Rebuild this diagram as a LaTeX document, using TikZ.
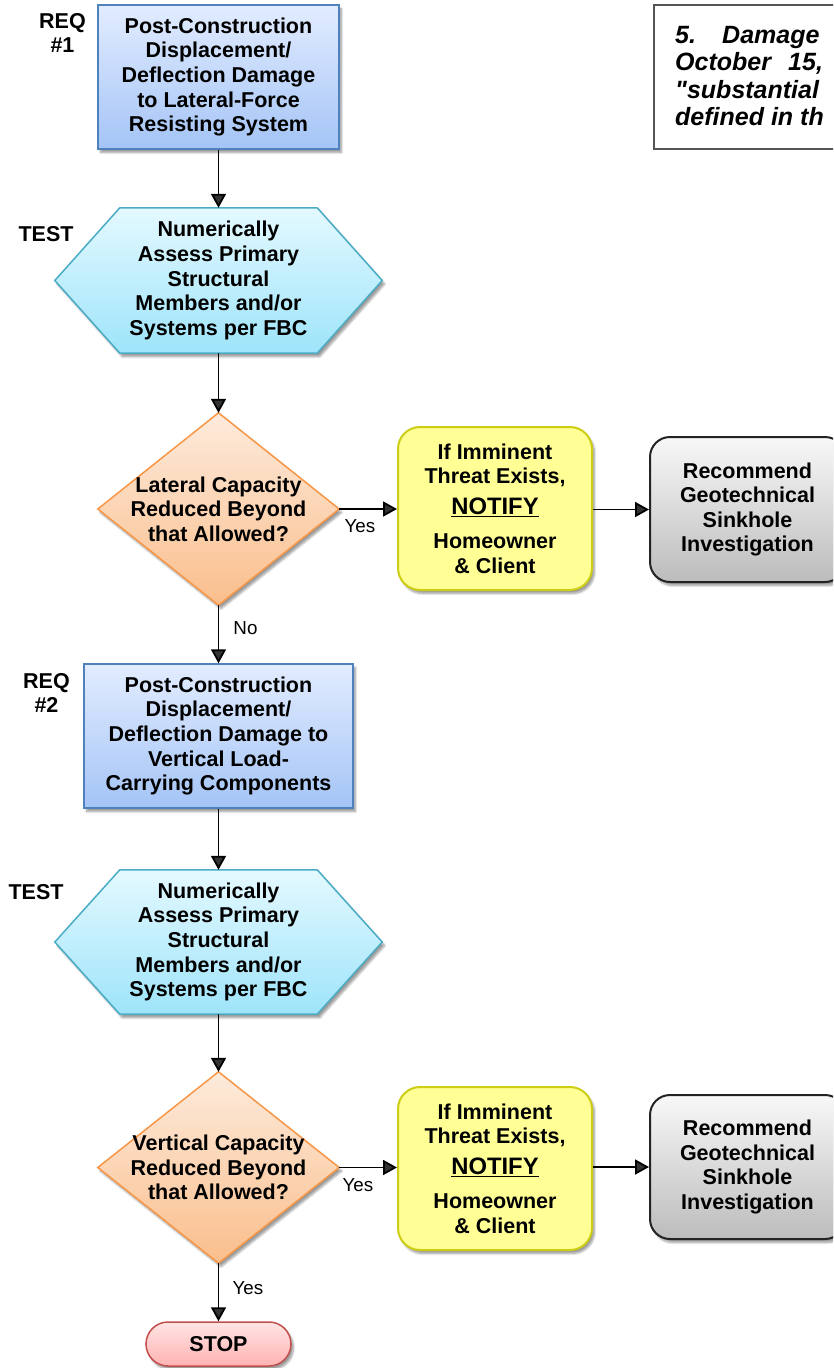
\documentclass[tikz,border=0pt]{standalone}
\usepackage{fontspec}
\setmainfont{Liberation Sans}
\usetikzlibrary{arrows.meta,shadows.blur}
\pgfdeclarelayer{background}
\pgfsetlayers{background,main}
\definecolor{bluetop}{RGB}{226,236,255}
\definecolor{bluebot}{RGB}{164,196,246}
\definecolor{blueline}{RGB}{79,129,189}
\definecolor{hextop}{RGB}{228,249,255}
\definecolor{hexbot}{RGB}{158,228,250}
\definecolor{hexline}{RGB}{75,172,198}
\definecolor{diatop}{RGB}{253,235,220}
\definecolor{diabot}{RGB}{250,190,140}
\definecolor{dialine}{RGB}{247,150,70}
\definecolor{yelfill}{RGB}{255,255,150}
\definecolor{yelline}{RGB}{205,205,20}
\definecolor{graytop}{RGB}{248,248,248}
\definecolor{graybot}{RGB}{188,188,188}
\definecolor{grayline}{RGB}{35,35,35}
\definecolor{stoptop}{RGB}{255,228,228}
\definecolor{stopbot}{RGB}{255,178,178}
\definecolor{stopline}{RGB}{192,80,77}
\definecolor{noteline}{RGB}{85,85,85}
\tikzset{
  txt/.style={font=\bfseries\fontsize{21.5}{24.6}\selectfont, align=center, inner sep=0pt},
  shd/.style={blur shadow={shadow xshift=2.5pt, shadow yshift=-3.5pt, shadow blur steps=6, shadow opacity=40}},
  reqbox/.style={txt, rectangle, draw=blueline, line width=1.5pt, top color=bluetop, bottom color=bluebot, shd, minimum height=144pt},
  hexarea/.style={txt, rectangle, minimum width=327pt, minimum height=145pt},
  hexshape/.style={draw=hexline, line width=1.5pt, top color=hextop, bottom color=hexbot, shd},
  diaarea/.style={txt, rectangle, minimum width=241pt, minimum height=192pt},
  diashape/.style={draw=dialine, line width=1.5pt, top color=diatop, bottom color=diabot, shd},
  notebox/.style={txt, rectangle, rounded corners=22pt, draw=yelline, line width=2pt, fill=yelfill, shd, minimum width=194pt, minimum height=163pt},
  geobox/.style={txt, rectangle, rounded corners=20pt, draw=grayline, line width=2pt, top color=graytop, bottom color=graybot, shd, minimum width=195pt, minimum height=145pt},
  stopbox/.style={txt, rectangle, rounded corners=22pt, draw=stopline, line width=1.5pt, top color=stoptop, bottom color=stopbot, shd, minimum width=145pt, minimum height=44pt},
  sidelabel/.style={txt},
  yeslabel/.style={font=\fontsize{18.8}{22}\selectfont, inner sep=0pt},
  arr/.style={line width=1.8pt, -{Triangle[length=14pt,width=15pt]}},
  notetxt/.style={font=\bfseries\itshape\fontsize{25}{27.5}\selectfont, inner sep=0pt, anchor=base west}
}
\begin{document}
\begin{tikzpicture}[x=1pt,y=-1pt]
\useasboundingbox (0,0) rectangle (833,1368);
\clip (0,0) rectangle (833,1368);

% note box (cropped at right)
\node[draw=noteline, line width=1.5pt, rectangle, minimum width=260pt, minimum height=144pt, inner sep=0pt] (note) at (784,77) {};
\node[notetxt] (n1a) at (675,43) {5.};
\node[notetxt] (n1b) at (722,43) {Damage};
\node[notetxt] (n2a) at (675,70.5) {October};
\node[notetxt] (n2b) at (788,70.5) {15,};
\node[notetxt] (n3a) at (675,98) {\textquotedbl substantial};
\node[notetxt] (n4a) at (675,125.5) {defined in th};

% side labels
\node[sidelabel] (req1) at (62.5,33) {REQ\\\#1};
\node[sidelabel] (test1) at (46,234) {TEST};
\node[sidelabel] (req2) at (46.5,693) {REQ\\\#2};
\node[sidelabel] (test2) at (36,892) {TEST};

% main column
\node[reqbox, minimum width=241pt] (b1) at (218.5,77) {Post-Construction\\Displacement/\\Deflection Damage\\to Lateral-Force\\Resisting System};
\node[hexarea] (t1) at (218.5,280.5) {Numerically\\Assess Primary\\Structural\\Members and/or\\Systems per FBC};
\node[diaarea] (d1) at (218.5,509) {Lateral Capacity\\Reduced Beyond\\that Allowed?};
\node[reqbox, minimum width=269pt] (b2) at (218.5,736) {Post-Construction\\Displacement/\\Deflection Damage to\\Vertical Load-\\Carrying Components};
\node[hexarea, minimum height=144pt] (t2) at (218.5,942) {Numerically\\Assess Primary\\Structural\\Members and/or\\Systems per FBC};
\node[diaarea, minimum height=191pt] (d2) at (218.5,1167.5) {Vertical Capacity\\Reduced Beyond\\that Allowed?};
\node[stopbox] (stop) at (218.5,1344) {STOP};

% right side
\node[notebox] (y1) at (495,508.5) {If Imminent\\Threat Exists,\\[6.4pt]{\fontsize{23.8}{26}\selectfont\underline{NOTIFY}}\\[9.4pt]Homeowner\\\& Client};
\node[geobox] (g1) at (747.5,509.5) {Recommend\\Geotechnical\\Sinkhole\\Investigation};
\node[notebox] (y2) at (495,1168.5) {If Imminent\\Threat Exists,\\[6.4pt]{\fontsize{23.8}{26}\selectfont\underline{NOTIFY}}\\[9.4pt]Homeowner\\\& Client};
\node[geobox, minimum height=144pt] (g2) at (747.5,1167) {Recommend\\Geotechnical\\Sinkhole\\Investigation};

% shapes behind text
\begin{pgfonlayer}{background}
\path[hexshape] (t1.west) -- ([xshift=65pt]t1.north west) -- ([xshift=-65pt]t1.north east) -- (t1.east) -- ([xshift=-65pt]t1.south east) -- ([xshift=65pt]t1.south west) -- cycle;
\path[hexshape] (t2.west) -- ([xshift=65pt]t2.north west) -- ([xshift=-65pt]t2.north east) -- (t2.east) -- ([xshift=-65pt]t2.south east) -- ([xshift=65pt]t2.south west) -- cycle;
\path[diashape] (d1.north) -- (d1.east) -- (d1.south) -- (d1.west) -- cycle;
\path[diashape] (d2.north) -- (d2.east) -- (d2.south) -- (d2.west) -- cycle;
\end{pgfonlayer}

% connectors
\draw[arr] (b1.south) -- (t1.north);
\draw[arr] (t1.south) -- (d1.north);
\draw[arr] (d1.south) -- (b2.north);
\draw[arr] (b2.south) -- (t2.north);
\draw[arr] (t2.south) -- (d2.north);
\draw[arr] (d2.south) -- (stop.north);
\draw[arr] (d1.east) -- (d1.east -| y1.west);
\draw[arr] (y1.east |- g1.west) -- (g1.west);
\draw[arr] (d2.east) -- (d2.east -| y2.west);
\draw[arr] (y2.east |- g2.west) -- (g2.west);

% edge labels
\node[yeslabel] (yes1) at (360,526.5) {Yes};
\node[yeslabel] (no1) at (245.5,628.5) {No};
\node[yeslabel] (yes2) at (358,1185) {Yes};
\node[yeslabel] (yes3) at (248,1288.5) {Yes};
\end{tikzpicture}
\end{document}
